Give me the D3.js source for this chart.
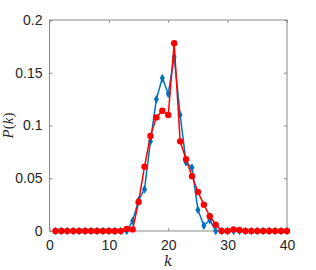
<!DOCTYPE html>
<html>
<head>
<meta charset="utf-8">
<script src="https://cdn.jsdelivr.net/npm/d3@7"></script>
<style>
  html, body { margin: 0; padding: 0; background: #fff; }
  svg { display: block; }
  .tick text { font-family: "Liberation Sans", Arial, sans-serif; font-size: 14px; fill: #262626; }
</style>
</head>
<body>
<div id="chart"></div>
<script>
const kValues = d3.range(1, 41);
const blueP = [0,0,0,0,0,0,0,0,0,0,0,0,
  0, 0.0095, 0.029, 0.0395, 0.085, 0.125, 0.145, 0.13, 0.165, 0.11,
  0.065, 0.06, 0.02, 0.005, 0.0104, 0,
  0,0,0,0,0,0,0,0,0,0,0,0];
const redP = [0,0,0,0,0,0,0,0,0,0,0,0,
  0.002, 0.0015, 0.0275, 0.061, 0.09, 0.1077, 0.114, 0.11, 0.178, 0.085,
  0.068, 0.052, 0.037, 0.025, 0.014, 0.006,
  0, 0, 0.0015, 0.001, 0,0,0,0,0,0,0,0];
const xTicks = [0, 10, 20, 30, 40];
const yTicks = [0, 0.05, 0.1, 0.15, 0.2];

const W = 316, H = 270;
const box = { left: 49.5, right: 287, top: 20, bottom: 231 };

const svg = d3.select('#chart').append('svg')
    .attr('width', W)
    .attr('height', H);

const x = d3.scaleLinear().domain([0, 40]).range([box.left, box.right]);
const y = d3.scaleLinear().domain([0, 0.2]).range([box.bottom, box.top]);

const axisColor = '#8a8a8a';

// box
svg.append('rect')
    .attr('x', box.left).attr('y', box.top)
    .attr('width', box.right - box.left)
    .attr('height', box.bottom - box.top)
    .attr('fill', 'none')
    .attr('stroke', axisColor)
    .attr('stroke-width', 1);

function styleAxis(g) {
    g.select('.domain').remove();
    g.selectAll('.tick line').attr('stroke', axisColor);
}

svg.append('g')
    .attr('transform', `translate(0,${box.bottom})`)
    .call(d3.axisBottom(x).tickValues(xTicks).tickSize(-3).tickPadding(7).tickFormat(d3.format('d')))
    .call(styleAxis)
    .selectAll('text').attr('dy', '0.85em');

svg.append('g')
    .attr('transform', `translate(${box.left},0)`)
    .call(d3.axisLeft(y).tickValues(yTicks).tickSize(-3).tickPadding(7).tickFormat(d => d === 0 ? '0' : String(+d.toFixed(2))))
    .call(styleAxis);

// top/right ticks
svg.append('g')
    .attr('transform', `translate(0,${box.top})`)
    .call(d3.axisTop(x).tickValues(xTicks).tickSize(-3).tickFormat(''))
    .call(styleAxis);
svg.append('g')
    .attr('transform', `translate(${box.right},0)`)
    .call(d3.axisRight(y).tickValues(yTicks).tickSize(-3).tickFormat(''))
    .call(styleAxis);

const blueData = kValues.map((k, i) => ({ k, p: blueP[i] }));
const redData = kValues.map((k, i) => ({ k, p: redP[i] }));

const line = d3.line().x(d => x(d.k)).y(d => y(d.p));

const blue = '#0072BD', red = '#FF0000';

svg.append('path')
    .attr('d', line(blueData))
    .attr('fill', 'none')
    .attr('stroke', blue)
    .attr('stroke-width', 1.5);

svg.append('g').selectAll('path')
    .data(blueData)
    .join('path')
    .attr('transform', d => `translate(${x(d.k)},${y(d.p)})`)
    .attr('d', d3.symbol(d3.symbolDiamond, 22))
    .attr('fill', blue);

svg.append('path')
    .attr('d', line(redData))
    .attr('fill', 'none')
    .attr('stroke', red)
    .attr('stroke-width', 1.5);

svg.append('g').selectAll('circle')
    .data(redData)
    .join('circle')
    .attr('cx', d => x(d.k))
    .attr('cy', d => y(d.p))
    .attr('r', 3.2)
    .attr('fill', red);

// axis labels
svg.append('text')
    .attr('x', (box.left + box.right) / 2)
    .attr('y', 266)
    .attr('text-anchor', 'middle')
    .attr('font-family', '"DejaVu Serif", "Liberation Serif", serif')
    .attr('font-style', 'italic')
    .attr('font-size', 14)
    .attr('fill', '#262626')
    .text('k');

svg.append('text')
    .attr('transform', `translate(13,${(box.top + box.bottom) / 2}) rotate(-90)`)
    .attr('text-anchor', 'middle')
    .attr('font-family', '"Liberation Serif", "DejaVu Serif", serif')
    .attr('font-size', 15)
    .attr('fill', '#262626')
    .html('<tspan font-style="italic">P</tspan>(<tspan font-style="italic">k</tspan>)');
</script>
</body>
</html>
